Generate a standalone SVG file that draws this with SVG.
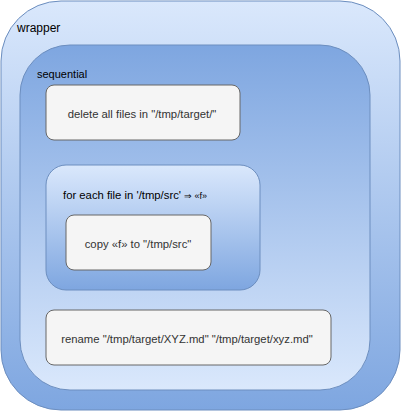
<svg xmlns="http://www.w3.org/2000/svg" width="401" height="411" viewBox="0 0 401 411">
<defs>
<linearGradient id="gDown" x1="0" y1="0" x2="0" y2="1"><stop offset="0" stop-color="#dae8fc"/><stop offset="1" stop-color="#7ea6e0"/></linearGradient>
<linearGradient id="gUp" x1="0" y1="0" x2="0" y2="1"><stop offset="0" stop-color="#7ea6e0"/><stop offset="1" stop-color="#dae8fc"/></linearGradient>
<style>
.grp{stroke:#6c8ebf;stroke-width:1}
.box{fill:#f5f5f5;stroke:#666666;stroke-width:1}
text{font-family:"Liberation Sans",Arial,sans-serif;font-size:11.3px;fill:#000}
.c{text-anchor:middle;fill:#333333}
.sm{font-size:9px}
</style>
</defs>
<g id="wrapper">
<rect class="grp" x="1" y="1" width="399" height="409" rx="60" ry="60" fill="url(#gDown)"/>
<text x="17" y="32" style="font-size:12px">wrapper</text>
</g>
<g id="sequential">
<rect class="grp" x="20" y="45" width="350" height="345" rx="50" ry="50" fill="url(#gUp)"/>
<text x="37" y="78" style="font-size:11px">sequential</text>
</g>
<g id="delete">
<rect class="box" x="46" y="85" width="194" height="55" rx="8" ry="8"/>
<text class="c" x="142" y="118">delete all files in "/tmp/target/"</text>
</g>
<g id="foreach">
<rect class="grp" x="46" y="165" width="214" height="125" rx="20" ry="20" fill="url(#gDown)"/>
<text x="63" y="199">for each file in '/tmp/src' <tspan class="sm">⇒ «f»</tspan></text>
</g>
<g id="copy">
<rect class="box" x="66" y="215" width="145" height="55" rx="8" ry="8"/>
<text class="c" x="138" y="248">copy «f» to "/tmp/src"</text>
</g>
<g id="rename">
<rect class="box" x="46" y="310" width="285" height="55" rx="8" ry="8"/>
<text class="c" x="187" y="343">rename "/tmp/target/XYZ.md" "/tmp/target/xyz.md"</text>
</g>
<g id="connectors"/>
</svg>
